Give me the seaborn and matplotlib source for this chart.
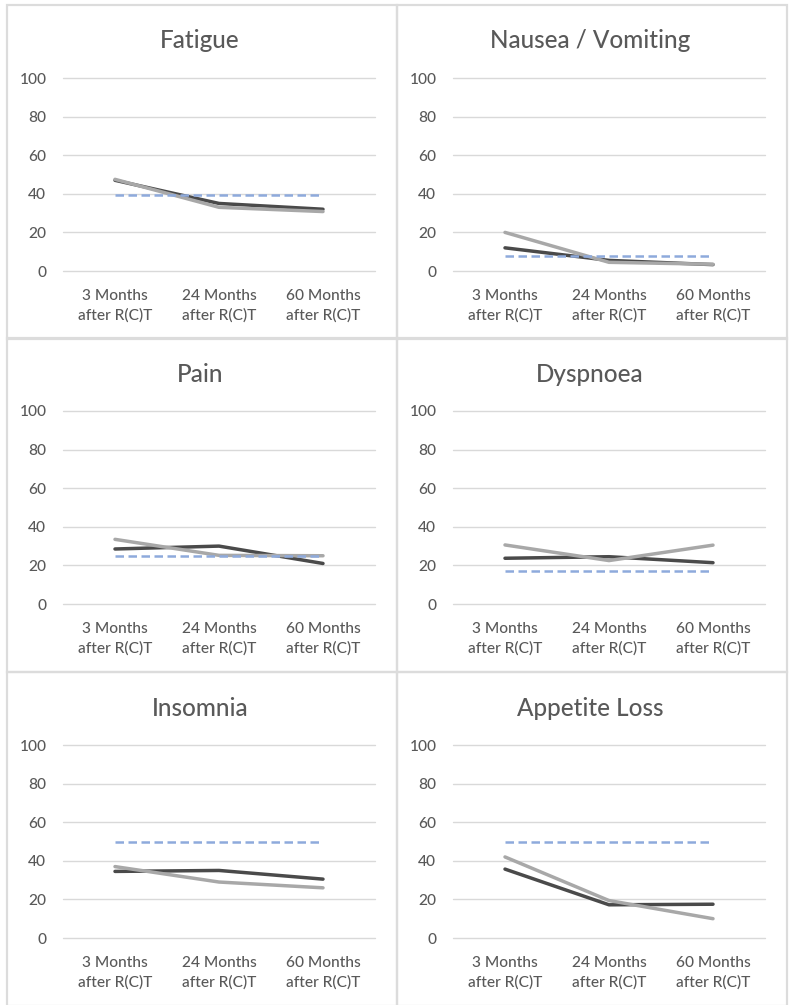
import matplotlib
matplotlib.use("Agg")
import matplotlib.pyplot as plt
from matplotlib.patches import Rectangle
import seaborn as sns
import pandas as pd

# Time points after radio(chemo)therapy
timepoints = ["3 Months\nafter R(C)T", "24 Months\nafter R(C)T", "60 Months\nafter R(C)T"]

symptoms = ["Fatigue", "Nausea / Vomiting", "Pain", "Dyspnoea", "Insomnia", "Appetite Loss"]

# Symptom scores (0-100) for the two patient groups and the reference value
group_dark = {
    "Fatigue": [47, 35, 32],
    "Nausea / Vomiting": [12, 5.5, 3.3],
    "Pain": [28.5, 30, 21],
    "Dyspnoea": [23.7, 24.5, 21.4],
    "Insomnia": [34.5, 35, 30.5],
    "Appetite Loss": [35.7, 17.2, 17.5],
}
group_light = {
    "Fatigue": [47.5, 33, 30.8],
    "Nausea / Vomiting": [20, 4.5, 3.5],
    "Pain": [33.5, 25.2, 25],
    "Dyspnoea": [30.6, 22.5, 30.5],
    "Insomnia": [37, 29, 26],
    "Appetite Loss": [42, 19.4, 10],
}
reference = {
    "Fatigue": 39.2,
    "Nausea / Vomiting": 7.8,
    "Pain": 25,
    "Dyspnoea": 17.1,
    "Insomnia": 50,
    "Appetite Loss": 50,
}

W, H = 789, 1005
DARK = "#4a4a4a"
LIGHT = "#a8a8a8"
REF = "#8eaadc"
TEXT = "#595959"
GRID = "#d9d9d9"
FONT = ["Lato", "DejaVu Sans"]

sns.set_theme(style="white")
plt.rcParams["font.family"] = FONT

fig = plt.figure(figsize=(W / 100, H / 100), dpi=100)
fig.patch.set_facecolor("white")


def fig_rect(x0, y0, x1, y1):
    """Pixel box (top-left origin) to figure fraction [left, bottom, width, height]."""
    return [x0 / W, 1 - y1 / H, (x1 - x0) / W, (y1 - y0) / H]


col_x = [7, 397]
col_w = 390
row_y = [5, 338, 672]
row_h = 334

for i, name in enumerate(symptoms):
    r, c = divmod(i, 2)
    px, py = col_x[c], row_y[r]

    # panel frame
    fx, fy, fw, fh = fig_rect(px, py, px + col_w, min(py + row_h, H + 5))
    fig.add_artist(Rectangle((fx, fy), fw, fh, transform=fig.transFigure,
                             fill=False, edgecolor="#dcdcdc", lw=1.6, zorder=0))

    # panel title, centred on the panel
    fig.text((px + col_w / 2 - 2) / W, 1 - (py + 36) / H, name, color=TEXT,
             fontsize=17.5, fontweight="medium", ha="center", va="center")

    # plot area inside the panel
    ax = fig.add_axes(fig_rect(px + 56, py + 73, px + 368, py + 266))

    df = pd.DataFrame({
        "t": list(range(3)) * 3,
        "score": group_dark[name] + group_light[name] + [reference[name]] * 3,
        "series": ["dark"] * 3 + ["light"] * 3 + ["ref"] * 3,
    })

    sns.lineplot(data=df[df.series == "dark"], x="t", y="score", ax=ax,
                 color=DARK, lw=2.5, solid_capstyle="round", solid_joinstyle="round",
                 zorder=3)
    sns.lineplot(data=df[df.series == "light"], x="t", y="score", ax=ax,
                 color=LIGHT, lw=2.5, solid_capstyle="round", solid_joinstyle="round",
                 zorder=4)
    sns.lineplot(data=df[df.series == "ref"], x="t", y="score", ax=ax,
                 color=REF, lw=1.8, linestyle=(0, (3.4, 1.8)), zorder=5)

    ax.set_xlim(-0.5, 2.5)
    ax.set_ylim(0, 100)
    ax.set_yticks(range(0, 101, 20))
    ax.set_xticks(range(3))
    ax.set_xticklabels(timepoints)
    ax.grid(axis="y", color=GRID, lw=1.0, zorder=0)
    ax.grid(axis="x", visible=False)
    for gl in ax.get_ygridlines():
        gl.set_clip_on(False)
    for s in ax.spines.values():
        s.set_visible(False)
    ax.tick_params(axis="both", length=0, labelcolor=TEXT, labelsize=11.2)
    ax.tick_params(axis="y", pad=12)
    ax.tick_params(axis="x", pad=13)
    for lab in ax.get_xticklabels() + ax.get_yticklabels():
        lab.set_fontweight("medium")
    for lab in ax.get_xticklabels():
        lab.set_linespacing(1.5)
    ax.set_xlabel("")
    ax.set_ylabel("")
    ax.set_facecolor("none")

fig.savefig("out.png", dpi=100, facecolor="white")
